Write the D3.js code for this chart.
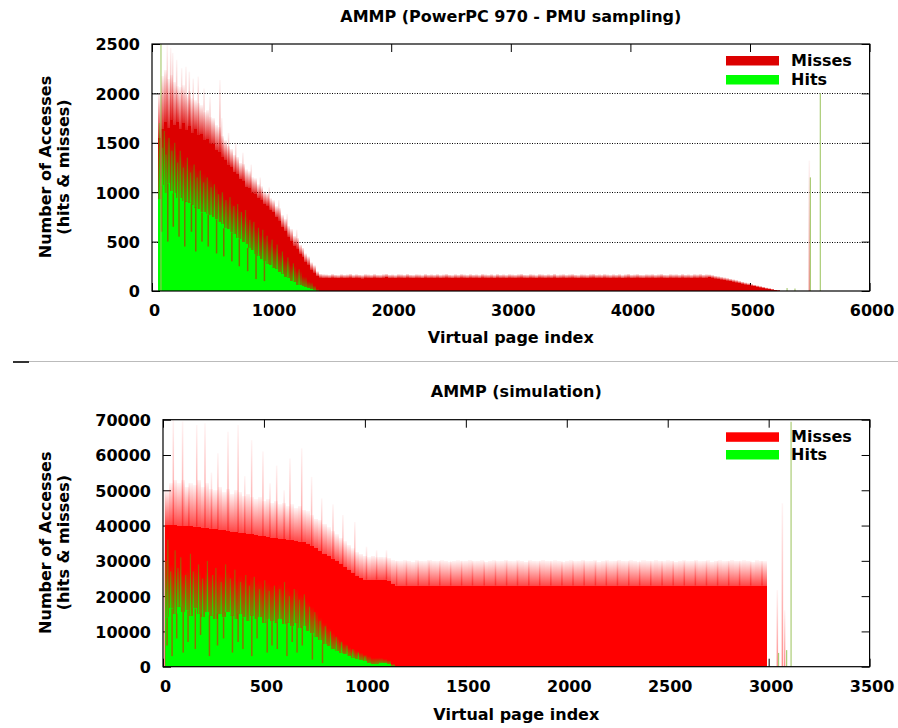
<!DOCTYPE html>
<html>
<head>
<meta charset="utf-8">
<script src="https://cdn.jsdelivr.net/npm/d3@7"></script>
<style>
  html, body { margin: 0; padding: 0; background: #fff; }
  svg { display: block; font-family: "DejaVu Sans", sans-serif; font-weight: bold; }
</style>
</head>
<body>
<svg id="page" width="898" height="728"></svg>
<script>
// ---------------------------------------------------------------
// AMMP page-access histograms: hits & misses per virtual page.
// Each chart is binned: bin i covers [start + i*width, start + (i+1)*width).
// "Solid" = level where the bars are dense, "Fade" = top of the sparse peaks.
// ---------------------------------------------------------------

// PowerPC 970 - PMU sampling
const pmuBinStart = 50;
const pmuBinWidth = 25;
const pmuXTicks = [0, 1000, 2000, 3000, 4000, 5000, 6000];
const pmuYTicks = [0, 500, 1000, 1500, 2000, 2500];

const pmuMissSolid = [
  1550,1640,1710,1650,1730,1680,1710,1640,1700,1630,
  1670,1600,1640,1580,1590,1530,1540,1490,1485,1425,
  1410,1360,1330,1280,1260,1200,1180,1130,1110,1050,
  1040,990,985,940,925,880,865,820,795,745,
  705,645,605,545,505,455,425,375,345,295,
  265,215,185,150,135,130,
  132,128,135,130,127,134,129,131,136,128,133,130,126,134,131,129,
  135,130,128,133,137,129,131,127,134,132,129,136,130,128,133,131,
  127,135,130,132,129,134,128,131,136,130,127,133,129,135,131,128,
  134,130,132,128,136,131,129,133,127,135,130,132,128,134,131,129,
  133,136,130,128,134,131,127,135,132,129,133,130,136,128,131,134,
  129,132,135,130,127,133,131,128,134,136,130,132,129,135,131,128,
  133,130,134,127,132,136,129,131,135,130,128,133,131,134,129,132,
  136,130,128,134,131,133,129,135,130,132,128,134,131,136,130,133,
  138,133,126,121,116,110,105,99,92,86,79,72,65,59,53,47,41,35,29,23,18,13,8,4,1
];
const pmuMissFade = [
  2000,2180,2240,2150,2190,2120,2070,2060,2080,1980,
  2020,1950,1930,1900,1880,1810,1830,1760,1750,1680,
  1660,1570,1530,1470,1440,1380,1360,1300,1290,1230,
  1210,1150,1140,1080,1060,1010,990,940,920,860,
  840,770,730,660,630,560,540,470,440,380,
  350,290,260,200,175,170,
  168,165,172,166,163,170,166,168,174,164,170,167,162,171,168,165,
  172,166,165,170,175,166,168,163,171,169,165,173,167,164,170,168,
  163,172,167,169,166,171,164,168,173,167,163,170,166,172,168,165,
  171,167,169,164,173,168,166,170,163,172,167,169,165,171,168,166,
  170,174,167,165,171,168,163,172,169,166,170,167,174,164,168,171,
  166,169,172,167,163,170,168,165,171,174,167,169,166,172,168,165,
  170,167,171,163,169,174,166,168,172,167,165,170,168,171,166,169,
  173,167,165,171,168,170,166,172,167,169,165,171,168,173,167,170,
  168,162,155,150,144,138,132,125,118,111,103,95,87,80,72,65,57,50,43,36,29,22,15,9,4
];
const pmuHitSolid = [
  930,1070,990,1090,1010,990,940,940,910,905,
  895,875,845,830,795,795,775,765,745,725,
  695,675,635,625,595,575,535,525,495,475,
  435,415,375,355,325,305,275,265,235,225,
  195,175,145,135,105,95,65,62,48,42,
  28,22,10,0
];
const pmuHitFade = [
  1480,1680,1590,1560,1500,1470,1390,1390,1340,1330,
  1290,1280,1240,1230,1190,1190,1140,1130,1090,1060,
  990,990,940,930,890,880,840,820,770,760,
  710,700,640,620,570,560,510,500,450,440,
  390,370,320,310,260,255,210,200,150,145,
  100,90,55,20
];
// isolated tall miss peaks
const pmuSpikePage = [128,156,173,206,248,284,312,345,387,435,485,568,583,640,700,760,830,905,980,1060,1130,1210,5496];
const pmuSpikeTop  = [2490,2460,2410,2340,2255,2270,2220,2150,2170,2050,1965,2135,1750,1600,1500,1400,1280,1150,1050,920,780,620,1320];
// single pages with many hits
const pmuHitSpikePage = [75, 5310, 5376, 5505, 5588];
const pmuHitSpikeTop  = [2600, 30, 25, 1150, 2000];
// tall hit bars rising into the miss area
const pmuHitStreakPage = [62,88,104,118,142,166,190,214,236,262,296,322,352,378,404,432,462,494,522,556,588,618,652,684,716,748,782,818,852,890,926,962,1004,1046,1090,1136,1182,1230];
const pmuHitStreakTop  = [1700,1450,1620,1380,1550,1420,1500,1300,1420,1250,1350,1200,1280,1150,1220,1100,1150,1050,1080,980,1000,920,950,860,880,800,820,720,700,640,620,560,520,470,400,340,280,220];
// pages with few hits (gaps in the hit area)
const pmuHitDipPage  = [80,132,178,226,274,330,366,418,470,540,600,668,730,800,870,940];
const pmuHitDipLevel = [600,500,650,550,450,600,400,500,450,380,350,300,250,200,120,100];

// Simulation
const simBinStart = 10;
const simBinWidth = 20;
const simXTicks = [0, 500, 1000, 1500, 2000, 2500, 3000, 3500];
const simYTicks = [0, 10000, 20000, 30000, 40000, 50000, 60000, 70000];

const simMissSolid = [
  40100,40200,40100,40000,39900,39900,39800,39700,39600,39400,
  39200,39100,39000,38800,38700,38500,38300,38100,38000,37800,
  37700,37500,37300,37100,37000,36800,36600,36500,36300,36100,
  36000,35800,35600,35400,35200,34800,34200,33500,32800,32000,
  31300,30600,30000,29200,28300,27400,26600,25800,25200,24700,
  24500,24600,24700,24600,24700,24400,23300,
  23000,23000,23000,23000,23000,23000,23000,23000,23000,23000,
  23000,23000,23000,23000,23000,23000,23000,23000,23000,23000,
  23000,23000,23000,23000,23000,23000,23000,23000,23000,23000,
  23000,23000,23000,23000,23000,23000,23000,23000,23000,23000,
  23000,23000,23000,23000,23000,23000,23000,23000,23000,23000,
  23000,23000,23000,23000,23000,23000,23000,23000,23000,23000,
  23000,23000,23000,23000,23000,23000,23000,23000,23000,23000,
  23000,23000,23000,23000,23000,23000,23000,23000,23000,23000,
  23000,23000,23000,23000,23000,23000,23000,23000,23000,23000,
  23000,23000
];
const simMissFade = [
  50000,52000,53000,52000,53000,51000,52000,51500,53000,51000,
  52000,50500,50000,51000,49500,50500,49000,50000,49500,48500,
  49000,48000,47500,48000,47000,47500,46500,47000,46000,46500,
  45500,46000,45000,45500,44500,44000,43000,42000,41500,40500,
  39500,38500,37500,36500,35500,34500,33500,32500,32000,31500,
  31000,31500,31000,31200,31000,30800,30200,
  30000,29900,30100,30000,29800,30100,30000,29900,30200,30000,
  29900,30100,30000,29800,30000,30100,29900,30000,30200,29900,
  30000,30100,29800,30000,30100,29900,30000,30200,30000,29900,
  30100,30000,29800,30100,30000,29900,30200,30000,29900,30100,
  30000,29800,30000,30100,29900,30000,30200,29900,30000,30100,
  29800,30000,30100,29900,30000,30200,30000,29900,30100,30000,
  29800,30100,30000,29900,30200,30000,29900,30100,30000,29800,
  30000,30100,29900,30000,30200,29900,30000,30100,29800,30000,
  30100,29900,30000,30200,30000,29900,30100,30000,29800,30100,
  30000,29900
];
const simHitSolid = [
  14000,16500,15000,17000,15500,16000,14500,16500,15000,14000,
  15500,14500,13500,15000,14000,15500,14500,13500,15000,14000,
  13000,14500,13500,14000,12500,13500,13000,12500,13500,12000,
  12500,11500,12500,11000,11500,10000,9500,8500,7500,6500,
  6000,5000,4500,4000,3500,3000,2600,2300,2000,1500,
  1000,700,900,1100,1000,800,300
];
const simHitFade = [
  26000,29000,27000,28000,26500,27500,26000,28000,27000,25500,
  27000,26000,25000,26500,25500,27000,25500,24500,26000,25000,
  24000,25500,24000,24500,23000,24000,23000,22500,23500,22000,
  22500,21000,22000,20500,20000,18500,17000,15500,14000,12500,
  11000,9500,8500,7500,6500,5500,5000,4500,4000,3500,
  3000,2500,2500,2500,2200,1800,800
];
const simSpikePage = [
  8,51,97,128,167,208,240,272,322,372,405,439,495,530,563,600,629,687,736,786,842,891,950,1008,1058,1107,
  1157,1206,1264,1318,1371,1425,1479,1533,1591,1647,1702,1756,1812,1866,1921,1976,2031,2086,2142,2196,
  2251,2307,2361,2416,2472,2527,2582,2637,2692,2747,2802,2856,2911,2967,
  3043,3068,3079
];
const simSpikeTop = [
  50000,70000,69500,52000,68500,69000,55000,60500,66600,68500,54000,64200,61000,52000,57000,50000,59000,61900,53800,47700,46000,43000,41000,34000,33000,33000,
  30000,30000,30000,30000,30000,30000,30000,30000,30000,30000,30000,30000,30000,30000,30000,30000,30000,30000,30000,30000,
  30000,30000,30000,30000,30000,30000,30000,30000,30000,30000,30000,30000,30000,30000,
  21700,46300,16000
];
const simHitSpikePage = [3049, 3089, 3111];
const simHitSpikeTop  = [3900, 4700, 69400];
const simHitStreakPage = [14,24,38,60,74,88,112,136,150,176,196,220,246,262,288,310,334,356,384,410,428,452,478,504,526,552,578,602,626,650,676,700,726,752,778,804,830,858,884,912,940,968,1000];
const simHitStreakTop  = [30000,36000,27000,33000,28000,31000,26000,32000,27000,29000,25000,30000,26000,28000,24000,29000,25000,27500,24000,26000,23000,25500,22000,24500,21500,23000,22000,24000,20000,22000,19000,20500,17000,15500,13000,11500,10000,8500,7000,6000,5000,4000,3000];
const simHitDipPage  = [20,45,68,100,124,160,186,230,270,300,344,372,396,440,466,516,540,566,614,640,664,690,740,790];
const simHitDipLevel = [6000,3000,8000,4000,7000,5000,9000,3000,6000,8000,4000,7000,5000,3000,8000,4000,6000,5000,3000,7000,4000,6000,2000,1000];

const seriesNames = ["Misses", "Hits"];
const hitColor = "#00ff00";

// ---------------------------------------------------------------
const svg = d3.select("#page");
const defs = svg.append("defs");

function addGradient(id, color, bottomOpacity, topOpacity) {
  const lg = defs.append("linearGradient").attr("id", id)
    .attr("x1", 0).attr("y1", 1).attr("x2", 0).attr("y2", 0);
  lg.append("stop").attr("offset", 0).attr("stop-color", color).attr("stop-opacity", bottomOpacity);
  lg.append("stop").attr("offset", 1).attr("stop-color", color).attr("stop-opacity", topOpacity);
}

function drawPanel(p) {
  const x = d3.scaleLinear().domain(p.xDomain).range([p.left, p.right]);
  const y = d3.scaleLinear().domain(p.yDomain).range([p.bottom, p.top]);
  const g = svg.append("g");

  defs.append("clipPath").attr("id", p.id + "-clip").append("rect")
    .attr("x", p.left).attr("y", p.top)
    .attr("width", p.right - p.left).attr("height", p.bottom - p.top);
  addGradient(p.id + "-missfade", p.missColor, p.fadeOpacity, 0.04);
  addGradient(p.id + "-hitfade", hitColor, 0.55, 0.0);
  addGradient(p.id + "-hitstreak", hitColor, 0.8, 0.3);
  addGradient(p.id + "-spike", p.missColor, 0.45, 0.04);

  // dotted horizontal grid
  if (p.grid) {
    g.append("g").selectAll("line")
      .data(p.yTicks.filter(v => v > p.yDomain[0] && v < p.yDomain[1]))
      .join("line")
      .attr("x1", p.left).attr("x2", p.right)
      .attr("y1", d => Math.round(y(d)) + 0.5).attr("y2", d => Math.round(y(d)) + 0.5)
      .attr("stroke", "#000").attr("stroke-width", 1).attr("stroke-dasharray", "1,1.5");
  }

  // axes: ticks point inward on all four sides
  const fmt = d3.format("d");
  const ax = g.append("g");
  const bottomAxis = ax.append("g").attr("transform", `translate(0,${p.bottom})`)
    .call(d3.axisBottom(x).tickValues(p.xTicks).tickFormat(fmt).tickSizeInner(-8).tickSizeOuter(0).tickPadding(13.6));
  ax.append("g").attr("transform", `translate(0,${p.top})`)
    .call(d3.axisTop(x).tickValues(p.xTicks).tickFormat("").tickSizeInner(-8).tickSizeOuter(0));
  const leftAxis = ax.append("g").attr("transform", `translate(${p.left},0)`)
    .call(d3.axisLeft(y).tickValues(p.yTicks).tickFormat(fmt).tickSizeInner(-8).tickSizeOuter(0).tickPadding(12));
  ax.append("g").attr("transform", `translate(${p.right},0)`)
    .call(d3.axisRight(y).tickValues(p.yTicks).tickFormat("").tickSizeInner(-8).tickSizeOuter(0));
  ax.selectAll(".domain").remove();
  ax.selectAll("g").attr("font-size", 16).attr("font-family", "DejaVu Sans").attr("font-weight", "bold");
  ax.selectAll(".tick line").attr("stroke", "#000").attr("stroke-width", 1);
  ax.selectAll(".tick text").attr("fill", "#000");
  bottomAxis.selectAll("text").attr("dx", 2);
  leftAxis.selectAll("text").attr("dy", "0.37em");

  // bins
  const n = p.missSolid.length;
  const bins = p.missSolid.map((v, i) => ({
    p0: p.start + i * p.width,
    p1: p.start + (i + 1) * p.width,
    miss: v,
    missTop: p.missFade[i],
    hit: p.hitSolid[i] ?? 0,
    hitTop: p.hitFade[i] ?? 0
  }));
  const binOf = page => Math.floor((page - p.start) / p.width);
  const missAt = page => { const i = binOf(page); return (i >= 0 && i < n) ? p.missSolid[i] : 0; };
  const hitAt = page => { const i = binOf(page); return (i >= 0 && i < n) ? (p.hitSolid[i] ?? 0) : 0; };

  const plot = g.append("g").attr("clip-path", `url(#${p.id}-clip)`);
  const crisp = plot.append("g").attr("shape-rendering", "crispEdges");

  // sparse upper part of the miss bars
  crisp.append("g").selectAll("rect").data(bins.filter(d => d.missTop > d.miss)).join("rect")
    .attr("x", d => x(d.p0)).attr("width", d => x(d.p1) - x(d.p0))
    .attr("y", d => y(d.missTop)).attr("height", d => y(d.miss) - y(d.missTop))
    .attr("fill", `url(#${p.id}-missfade)`);

  plot.append("g").selectAll("rect")
    .data(p.spikePage.map((pg, i) => ({ page: pg, top: p.spikeTop[i], base: missAt(pg) })))
    .join("rect")
    .attr("x", d => x(d.page) - 0.75).attr("width", 1.5)
    .attr("y", d => y(d.top)).attr("height", d => y(d.base) - y(d.top))
    .attr("fill", `url(#${p.id}-spike)`);

  // dense miss bars (hits + misses)
  crisp.append("g").selectAll("rect").data(bins).join("rect")
    .attr("x", d => x(d.p0)).attr("width", d => x(d.p1) - x(d.p0))
    .attr("y", d => y(d.miss)).attr("height", d => y(0) - y(d.miss))
    .attr("fill", p.missColor);

  // sparse upper part of the hit bars
  crisp.append("g").selectAll("rect").data(bins.filter(d => d.hitTop > d.hit)).join("rect")
    .attr("x", d => x(d.p0)).attr("width", d => x(d.p1) - x(d.p0))
    .attr("y", d => y(d.hitTop)).attr("height", d => y(d.hit) - y(d.hitTop))
    .attr("fill", `url(#${p.id}-hitfade)`);

  // dense hit bars
  crisp.append("g").selectAll("rect").data(bins.filter(d => d.hit > 0)).join("rect")
    .attr("x", d => x(d.p0)).attr("width", d => x(d.p1) - x(d.p0))
    .attr("y", d => y(d.hit)).attr("height", d => y(0) - y(d.hit))
    .attr("fill", hitColor);

  // individual tall hit bars
  plot.append("g").selectAll("rect")
    .data(p.hitStreakPage.map((pg, i) => ({ page: pg, top: p.hitStreakTop[i], base: hitAt(pg) })))
    .join("rect")
    .attr("x", d => x(d.page) - 0.6).attr("width", 1.2)
    .attr("y", d => y(d.top)).attr("height", d => Math.max(0, y(d.base) - y(d.top)))
    .attr("fill", `url(#${p.id}-hitstreak)`);

  // individual pages with few hits
  plot.append("g").selectAll("rect")
    .data(p.hitDipPage.map((pg, i) => ({ page: pg, level: p.hitDipLevel[i], top: hitAt(pg) })))
    .join("rect")
    .attr("x", d => x(d.page) - 0.75).attr("width", 1.5)
    .attr("y", d => y(d.top)).attr("height", d => Math.max(0, y(d.level) - y(d.top)))
    .attr("fill", p.missColor).attr("fill-opacity", 0.55);

  // isolated hit peaks
  plot.append("g").selectAll("rect")
    .data(p.hitSpikePage.map((pg, i) => ({ page: pg, top: p.hitSpikeTop[i] })))
    .join("rect")
    .attr("x", d => x(d.page) - 0.6).attr("width", 1.2)
    .attr("y", d => y(d.top)).attr("height", d => y(0) - y(d.top))
    .attr("fill", "#9cc35e").attr("fill-opacity", 0.85);

  // frame
  g.append("rect")
    .attr("x", p.left).attr("y", p.top)
    .attr("width", p.right - p.left).attr("height", p.bottom - p.top)
    .attr("fill", "none").attr("stroke", "#000").attr("stroke-width", 1.2);

  // legend
  const lg = g.append("g");
  const swatchColors = [p.missColor, hitColor];
  seriesNames.forEach((name, i) => {
    lg.append("rect").attr("x", 726).attr("y", p.legendTop[i]).attr("width", 53).attr("height", 9.5)
      .attr("fill", swatchColors[i]);
    lg.append("text").attr("x", 791).attr("y", p.legendTop[i] + 10).attr("font-size", 16)
      .attr("fill", "#000").text(name);
  });

  // titles
  const cx = (p.left + p.right) / 2;
  g.append("text").attr("x", cx).attr("y", p.titleY).attr("text-anchor", "middle")
    .attr("font-size", 16).text(p.title);
  g.append("text").attr("x", cx).attr("y", p.xLabelY).attr("text-anchor", "middle")
    .attr("font-size", 16).text("Virtual page index");
  const cy = (p.top + p.bottom) / 2 - 0.5;
  g.append("text").attr("transform", `translate(50.5,${cy}) rotate(-90)`).attr("text-anchor", "middle")
    .attr("font-size", 16).text("Number of Accesses");
  g.append("text").attr("transform", `translate(68.5,${cy}) rotate(-90)`).attr("text-anchor", "middle")
    .attr("font-size", 16).text("(hits & misses)");
}

drawPanel({
  id: "pmu", title: "AMMP (PowerPC 970 - PMU sampling)",
  left: 152, right: 869.6, top: 44, bottom: 291,
  titleY: 21.7, xLabelY: 343, legendTop: [56, 75],
  xDomain: [0, 6000], yDomain: [0, 2500], xTicks: pmuXTicks, yTicks: pmuYTicks,
  grid: true, missColor: "#dc0000", fadeOpacity: 0.85,
  start: pmuBinStart, width: pmuBinWidth,
  missSolid: pmuMissSolid, missFade: pmuMissFade, hitSolid: pmuHitSolid, hitFade: pmuHitFade,
  spikePage: pmuSpikePage, spikeTop: pmuSpikeTop,
  hitSpikePage: pmuHitSpikePage, hitSpikeTop: pmuHitSpikeTop,
  hitStreakPage: pmuHitStreakPage, hitStreakTop: pmuHitStreakTop,
  hitDipPage: pmuHitDipPage, hitDipLevel: pmuHitDipLevel
});

drawPanel({
  id: "sim", title: "AMMP (simulation)",
  left: 163, right: 869.6, top: 419.7, bottom: 666.7,
  titleY: 397.3, xLabelY: 720, legendTop: [432.3, 450],
  xDomain: [0, 3500], yDomain: [0, 70000], xTicks: simXTicks, yTicks: simYTicks,
  grid: false, missColor: "#ff0000", fadeOpacity: 0.72,
  start: simBinStart, width: simBinWidth,
  missSolid: simMissSolid, missFade: simMissFade, hitSolid: simHitSolid, hitFade: simHitFade,
  spikePage: simSpikePage, spikeTop: simSpikeTop,
  hitSpikePage: simHitSpikePage, hitSpikeTop: simHitSpikeTop,
  hitStreakPage: simHitStreakPage, hitStreakTop: simHitStreakTop,
  hitDipPage: simHitDipPage, hitDipLevel: simHitDipLevel
});

// page separator
svg.append("line").attr("x1", 13).attr("x2", 898).attr("y1", 361.5).attr("y2", 361.5)
  .attr("stroke", "#bbb").attr("stroke-width", 1);
svg.append("rect").attr("x", 13).attr("y", 361).attr("width", 16).attr("height", 2).attr("fill", "#333");
</script>
</body>
</html>
